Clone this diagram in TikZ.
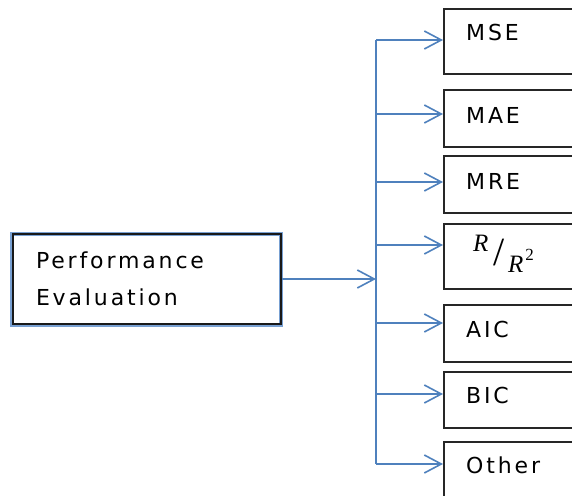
\documentclass[tikz,border=0pt]{standalone}
\usepackage{fontspec}
\setmainfont{DejaVu Sans}[LetterSpace=13]
\newfontfamily\mathserif{Liberation Serif}
\usetikzlibrary{arrows.meta}
\definecolor{linkblue}{RGB}{79,129,189}
\definecolor{rimblue}{RGB}{120,160,210}
\tikzset{
  metricbox/.style={draw=black!85, line width=1.8pt, rectangle, anchor=north west, inner sep=0pt},
  lbl/.style={anchor=base west, inner sep=0pt, font=\fontsize{22}{26}\selectfont},
  ratio/.style={inner sep=0pt, font=\mathserif\fontsize{25}{29}\selectfont},
  link/.style={draw=linkblue, line width=1.6pt},
  arr/.style={link, -{Straight Barb[length=17pt, width=18pt, line width=1.6pt]}},
}
\begin{document}
\begin{tikzpicture}[x=1pt, y=-1pt]
\useasboundingbox (0,0) rectangle (572,495);

% source box, blue rim under a black frame
\node[draw=rimblue, line width=4.5pt, minimum width=269pt, minimum height=91pt, inner sep=0pt] (perfrim) at (146.5,279.5) {};
\node[draw=black!90, line width=2pt, minimum width=268pt, minimum height=90pt, inner sep=0pt,
      text width=222pt, align=left, font=\fontsize{22}{37}\selectfont] (perf) at (147,279)
  {Performance\\Evaluation};

% metric boxes (right sides run off the page)
\node[metricbox, minimum width=160pt, minimum height=65pt] (mse) at (443,8) {};
\node[metricbox, minimum width=160pt, minimum height=57pt] (mae) at (443,89) {};
\node[metricbox, minimum width=160pt, minimum height=57pt] (mre) at (443,155) {};
\node[metricbox, minimum width=160pt, minimum height=65pt] (rr) at (443,223) {};
\node[metricbox, minimum width=160pt, minimum height=57pt] (aic) at (443,304) {};
\node[metricbox, minimum width=160pt, minimum height=56pt] (bic) at (443,371) {};
\node[metricbox, minimum width=160pt, minimum height=70pt] (oth) at (443,441) {};

% labels
\node[lbl] (tmse) at (466,41) {MSE};
\node[lbl] (tmae) at (466,123) {MAE};
\node[lbl] (tmre) at (466,189) {MRE};
\node[lbl] (taic) at (466,337) {AIC};
\node[lbl] (tbic) at (466,403) {BIC};
\node[lbl] (toth) at (466,473) {Other};
\node[ratio, anchor=base west] (rnum) at (473,251) {\itshape R};
\node[ratio, anchor=center, font=\mathserif\fontsize{40}{40}\selectfont] (rslash) at (499,253) {/};
\node[ratio, anchor=base west] (rden) at (508,272) {\itshape R\kern2pt\raisebox{0.45em}{\upshape\fontsize{17}{17}\selectfont 2}};

% trunk points
\coordinate (t1) at (376,40);
\coordinate (t2) at (376,114);
\coordinate (t3) at (376,182);
\coordinate (t4) at (376,245);
\coordinate (t5) at (376,323);
\coordinate (t6) at (376,394);
\coordinate (t7) at (376,464);

% connectors
\draw[link] (t1) -- (t7);
\draw[arr] (perf.east) -- (perf.east -| t1);
\draw[arr] (t1) -- (t1 -| mse.west);
\draw[arr] (t2) -- (t2 -| mae.west);
\draw[arr] (t3) -- (t3 -| mre.west);
\draw[arr] (t4) -- (t4 -| rr.west);
\draw[arr] (t5) -- (t5 -| aic.west);
\draw[arr] (t6) -- (t6 -| bic.west);
\draw[arr] (t7) -- (t7 -| oth.west);
\end{tikzpicture}
\end{document}
